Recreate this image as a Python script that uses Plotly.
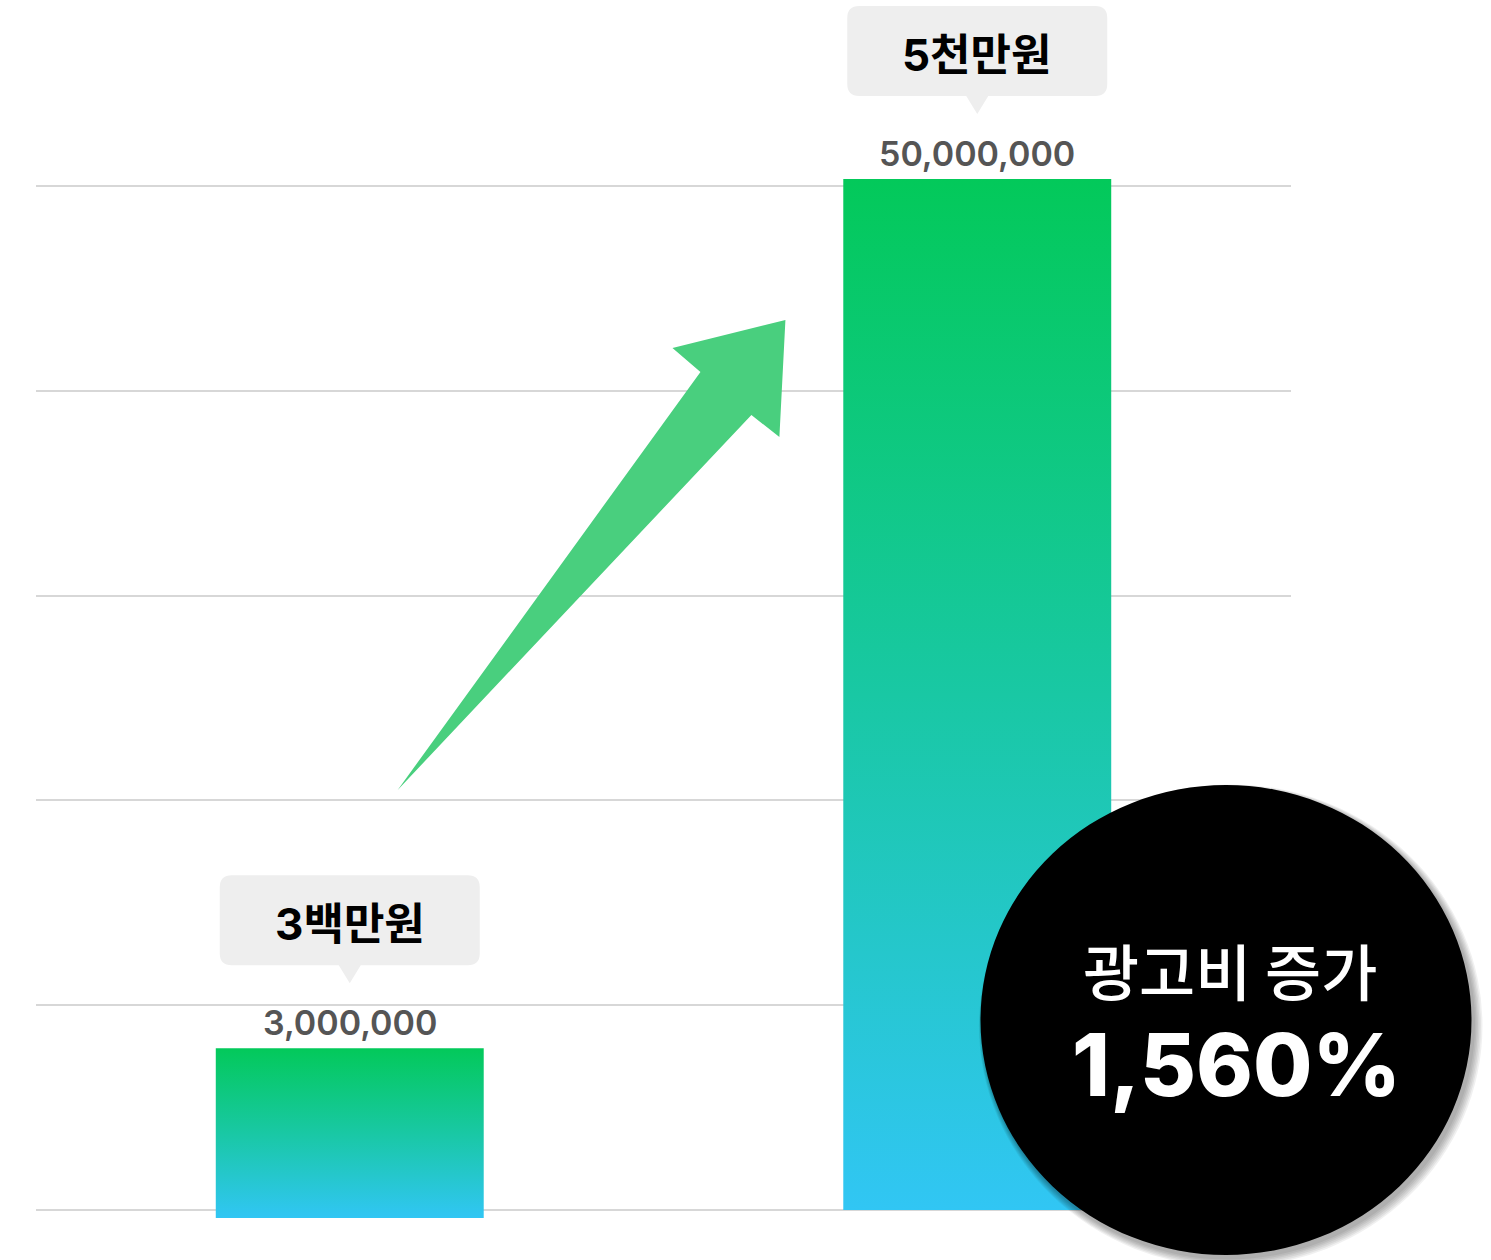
import plotly.graph_objects as go

# ---- data ----
bubble_labels = ["3백만원", "5천만원"]
amounts = [3000000, 50000000]
amount_labels = [f"{v:,}" for v in amounts]
# bar extents as drawn in the picture (value-axis units)
drawn_top = [7.9e6, 50.34e6]
drawn_base = [-0.39e6, 0]
grid_values = [0, 10e6, 20e6, 30e6, 40e6, 50e6]
badge_title = "광고비 증가"
badge_value = "1,560%"

W, H = 1491, 1260
ML, MR, MT, MB = 36, 200, 0, 0
YR = [-2.441e6, 59.08e6]
XR = [-0.5, 1.5]
BAR_W = 0.427

FONT = "Inter, 'Noto Sans CJK KR', sans-serif"
KFONT = "'Noto Sans CJK KR', Inter, sans-serif"

fig = go.Figure()

grad = [[0, "#31c6f4"], [0.5, "#19c8a4"], [1, "#03c95a"]]
for i, (top, base) in enumerate(zip(drawn_top, drawn_base)):
    x0, x1 = i - BAR_W / 2, i + BAR_W / 2
    fig.add_trace(go.Scatter(
        x=[x0, x1, x1, x0, x0], y=[base, base, top, top, base],
        mode="lines", fill="toself", line=dict(width=0, color="rgba(0,0,0,0)"),
        fillgradient=dict(type="vertical", colorscale=grad),
        hoverinfo="skip", showlegend=False,
    ))

shapes = []

# arrow (decoration) in data coordinates
arrow_pts = [(0.0764, 20.51e6), (0.5589, 40.92e6), (0.5143, 42.09e6),
             (0.6943, 43.46e6), (0.6847, 37.74e6), (0.6401, 38.82e6)]
path = "M " + " L ".join(f"{x},{y}" for x, y in arrow_pts) + " Z"
shapes.append(dict(type="path", xref="x", yref="y", path=path,
                   fillcolor="#49cf7e", line=dict(width=0), layer="above"))

# speech bubbles above bars (pixel offsets from bar top)
bubble_path = ("M -118,83 L -11,83 L 0,65 L 11,83 L 118,83 Q 130,83 130,95 "
               "L 130,161 Q 130,173 118,173 L -118,173 Q -130,173 -130,161 "
               "L -130,95 Q -130,83 -118,83 Z")
for i, top in enumerate(drawn_top):
    shapes.append(dict(type="path", xref="x", yref="y", xsizemode="pixel",
                       ysizemode="pixel", xanchor=i, yanchor=top,
                       path=bubble_path, fillcolor="#eeeeee",
                       line=dict(width=0), layer="above"))

# badge ellipse with soft shadow (paper coordinates)
pw = W - ML - MR
ph = H - MT - MB


def px2paper(px, py):
    return (px - ML) / pw, 1 - (py - MT) / ph


bx0, by0, bx1, by1 = 980.5, 785, 1471.5, 1255
for k in range(6, 0, -1):
    a, b = px2paper(bx0 + 2 - k * 0.6, by0 + 3 - k * 0.6)
    c, d = px2paper(bx1 + 2 + k * 1.5, by1 + 3 + k * 1.5)
    shapes.append(dict(type="circle", xref="paper", yref="paper",
                       x0=a, y0=d, x1=c, y1=b,
                       fillcolor="rgba(0,0,0,0.06)", line=dict(width=0),
                       layer="above"))
a, b = px2paper(bx0, by0)
c, d = px2paper(bx1, by1)
shapes.append(dict(type="circle", xref="paper", yref="paper",
                   x0=a, y0=d, x1=c, y1=b, fillcolor="#000000",
                   line=dict(width=0), layer="above"))

annotations = []
for i, top in enumerate(drawn_top):
    annotations.append(dict(x=i, y=top, xref="x", yref="y", text=amount_labels[i],
                            showarrow=False, yanchor="middle", yshift=26,
                            font=dict(family=FONT, size=34, color="#555555",
                                      weight=600)))
    annotations.append(dict(x=i, y=top, xref="x", yref="y", text=bubble_labels[i],
                            showarrow=False, yanchor="middle", yshift=124,
                            font=dict(family=FONT, size=44, color="#000000",
                                      weight=700)))

tx, ty = px2paper(1230, 969)
annotations.append(dict(x=tx, y=ty, xref="paper", yref="paper", text=badge_title,
                        showarrow=False, xanchor="center", yanchor="middle",
                        font=dict(family=KFONT, size=61, color="#ffffff",
                                  weight=500)))
tx, ty = px2paper(1236, 1065)
annotations.append(dict(x=tx, y=ty, xref="paper", yref="paper", text=badge_value,
                        showarrow=False, xanchor="center", yanchor="middle",
                        font=dict(family=FONT, size=86, color="#ffffff",
                                  weight=800)))

fig.update_layout(
    width=W, height=H,
    margin=dict(l=ML, r=MR, t=MT, b=MB, pad=0),
    paper_bgcolor="#ffffff", plot_bgcolor="#ffffff",
    showlegend=False, hovermode=False,
    shapes=shapes, annotations=annotations,
    xaxis=dict(range=XR, showgrid=False, zeroline=False, showticklabels=False,
               showline=False, ticks="", fixedrange=True),
    yaxis=dict(range=YR, tickvals=grid_values, showgrid=True,
               gridcolor="#d7d7d7", gridwidth=2, zeroline=False,
               showticklabels=False, showline=False, ticks="", fixedrange=True),
)

fig.write_html("out.html", config={"displayModeBar": False},
               post_script="document.body.style.margin='0';")
